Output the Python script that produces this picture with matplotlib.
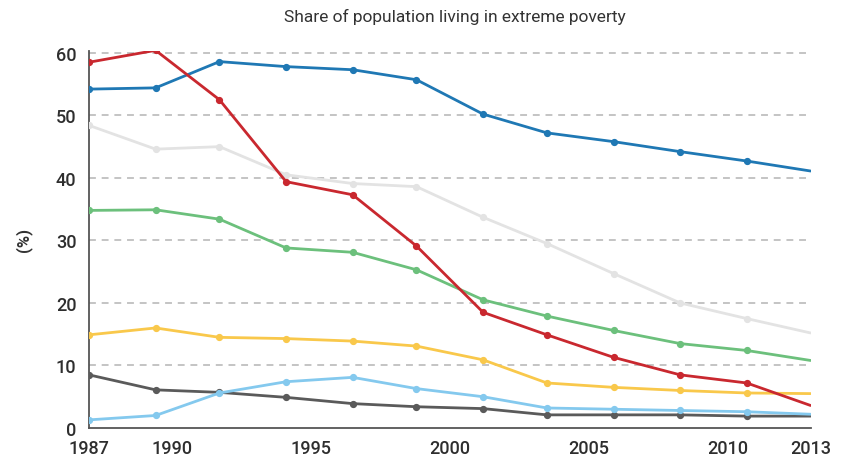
import matplotlib
matplotlib.use("Agg")
import matplotlib.pyplot as plt
from matplotlib.ticker import FixedLocator

plt.rcParams['font.family'] = ['Roboto', 'DejaVu Sans']

# x positions of the data points (years)
years = [1987, 1989.4, 1991.7, 1994.1, 1996.5, 1998.8,
         2001.2, 2003.5, 2005.9, 2008.3, 2010.7, 2013]

blue      = [54.2, 54.4, 58.6, 57.8, 57.3, 55.7, 50.2, 47.2, 45.8, 44.2, 42.7, 41.1]
red       = [58.5, 60.4, 52.5, 39.4, 37.3, 29.1, 18.5, 14.9, 11.3, 8.5, 7.2, 3.6]
lightgray = [48.4, 44.6, 45.0, 40.5, 39.1, 38.6, 33.7, 29.5, 24.7, 20.0, 17.5, 15.2]
green     = [34.8, 34.9, 33.4, 28.8, 28.1, 25.3, 20.5, 17.9, 15.6, 13.5, 12.4, 10.8]
yellow    = [14.9, 16.0, 14.5, 14.3, 13.9, 13.1, 10.9, 7.2, 6.5, 6.0, 5.6, 5.5]
lightblue = [1.3, 2.0, 5.6, 7.4, 8.1, 6.3, 5.0, 3.2, 3.0, 2.8, 2.6, 2.2]
darkgray  = [8.5, 6.1, 5.7, 4.9, 3.9, 3.4, 3.1, 2.1, 2.1, 2.1, 1.9, 1.9]

xticks = [1987, 1990, 1995, 2000, 2005, 2010, 2013]
yticks = [0, 10, 20, 30, 40, 50, 60]

series = [
    (lightgray, '#e3e3e3'),
    (darkgray, '#5a5a5a'),
    (lightblue, '#84c9ee'),
    (yellow, '#f9c84b'),
    (green, '#6cc07c'),
    (blue, '#1f78b4'),
    (red, '#c9282f'),
]

fig = plt.figure(figsize=(8.42, 4.6), dpi=100)
ax = fig.add_axes([0.1057, 0.0674, 0.857, 0.8196])

for vals, col in series:
    ax.plot(years, vals, color=col, lw=2.0, marker='o', ms=4.2,
            markevery=list(range(len(vals) - 1)), solid_capstyle='round', zorder=3)

ax.set_xlim(1987, 2013)
ax.set_ylim(0, 60.3)
ax.xaxis.set_major_locator(FixedLocator(xticks))
ax.yaxis.set_major_locator(FixedLocator(yticks))
ax.set_xticklabels([str(t) for t in xticks])
ax.set_yticklabels([str(t) for t in yticks])

for y in yticks[1:]:
    ax.axhline(y, xmax=0.996, color='#b4b4b4', lw=1.1, ls=(0, (4.5, 3.8)), zorder=1)

for s in ['top', 'right']:
    ax.spines[s].set_visible(False)
for s in ['left', 'bottom']:
    ax.spines[s].set_color('#555555')
    ax.spines[s].set_linewidth(1.3)

ax.tick_params(axis='both', length=0, labelsize=13, colors='#2e2e2e')
ax.tick_params(axis='x', pad=8)
ax.tick_params(axis='y', pad=9)
for lab in ax.get_xticklabels() + ax.get_yticklabels():
    lab.set_fontweight('medium')

ax.set_ylabel('(%)', fontsize=12, fontweight='bold', color='#333333', labelpad=17)
fig.text(0.54, 0.962, 'Share of population living in extreme poverty',
         ha='center', va='center', fontsize=12.5, color='#333333')

fig.savefig('out.png', dpi=100)
